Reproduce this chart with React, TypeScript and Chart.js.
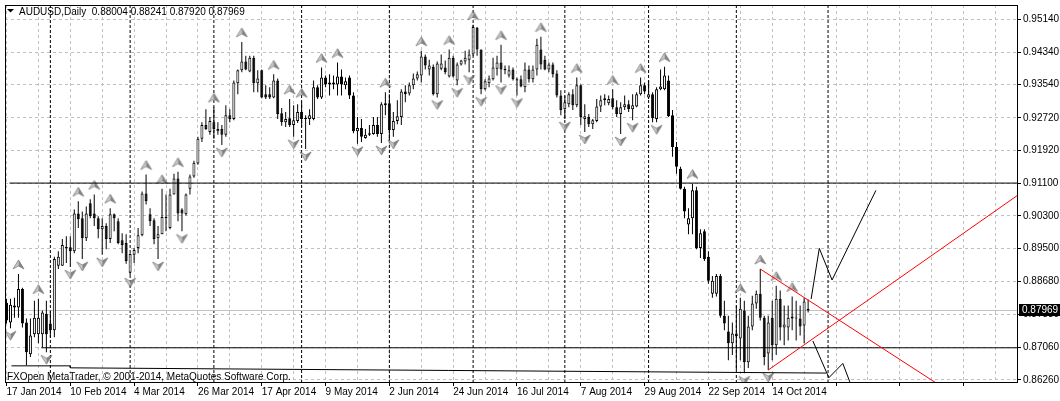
import { useEffect, useRef } from 'react';
import { Chart, registerables } from 'chart.js';

Chart.register(...registerables);

// ---------- data ----------
const symbolName = 'AUDUSD';
const periodName = 'Daily';
const footerText = 'FXOpen MetaTrader, © 2001-2014, MetaQuotes Software Corp.';

// x tick labels, one every 16 daily bars starting at bar 0 (17 Jan 2014)
const dateLabels = ['17 Jan 2014', '10 Feb 2014', '4 Mar 2014', '26 Mar 2014', '17 Apr 2014', '9 May 2014', '2 Jun 2014', '24 Jun 2014', '16 Jul 2014', '7 Aug 2014', '29 Aug 2014', '22 Sep 2014', '14 Oct 2014'];
const priceTicks = [0.8626, 0.8706, 0.8788, 0.8868, 0.895, 0.903, 0.911, 0.9192, 0.9272, 0.9354, 0.9434, 0.9514];

const opens = [
  0.8816, 0.8767, 0.8804, 0.8804, 0.8850, 0.8767, 0.8689, 0.8738, 0.8738, 0.8738,
  0.8789, 0.8765, 0.8748, 0.8907, 0.8907, 0.8951, 0.8953, 0.8943, 0.9036, 0.9024,
  0.8975, 0.9061, 0.9036, 0.9024, 0.8997, 0.9005, 0.8973, 0.9034, 0.9017, 0.8970,
  0.8963, 0.8890, 0.8934, 0.8951, 0.8982, 0.9085, 0.9034, 0.9019, 0.8975, 0.8985,
  0.9027, 0.9000, 0.9083, 0.9122, 0.9046, 0.9034, 0.9097, 0.9127, 0.9159, 0.9220,
  0.9254, 0.9237, 0.9261, 0.9239, 0.9244, 0.9230, 0.9278, 0.9269, 0.9357, 0.9389,
  0.9411, 0.9386, 0.9420, 0.9357, 0.9389, 0.9330, 0.9330, 0.9322, 0.9364, 0.9283,
  0.9261, 0.9271, 0.9254, 0.9264, 0.9286, 0.9271, 0.9269, 0.9269, 0.9347, 0.9322,
  0.9371, 0.9354, 0.9359, 0.9354, 0.9374, 0.9352, 0.9371, 0.9327, 0.9239, 0.9247,
  0.9222, 0.9230, 0.9232, 0.9254, 0.9232, 0.9303, 0.9308, 0.9242, 0.9264, 0.9274,
  0.9337, 0.9332, 0.9352, 0.9369, 0.9376, 0.9423, 0.9391, 0.9398, 0.9330, 0.9393,
  0.9396, 0.9374, 0.9420, 0.9364, 0.9403, 0.9411, 0.9415, 0.9428, 0.9494, 0.9440,
  0.9342, 0.9357, 0.9367, 0.9393, 0.9408, 0.9393, 0.9376, 0.9391, 0.9367, 0.9367,
  0.9347, 0.9391, 0.9367, 0.9391, 0.9440, 0.9415, 0.9391, 0.9403, 0.9381, 0.9327,
  0.9293, 0.9305, 0.9330, 0.9303, 0.9352, 0.9269, 0.9274, 0.9256, 0.9264, 0.9300,
  0.9315, 0.9308, 0.9320, 0.9298, 0.9281, 0.9298, 0.9305, 0.9293, 0.9300, 0.9330,
  0.9352, 0.9322, 0.9330, 0.9269, 0.9342, 0.9342, 0.9364, 0.9278, 0.9200, 0.9146,
  0.9097, 0.9009, 0.9024, 0.9093, 0.8951, 0.8992, 0.8929, 0.8838, 0.8838, 0.8882,
  0.8784, 0.8745, 0.8716, 0.8740, 0.8728, 0.8797, 0.8669, 0.8757, 0.8814, 0.8838,
  0.8779, 0.8691, 0.8779, 0.8711, 0.8826, 0.8755, 0.8755, 0.8782, 0.8777, 0.8777,
  0.8760, 0.88004,
];
const highs = [
  0.8826, 0.8826, 0.8828, 0.8887, 0.8853, 0.8777, 0.8777, 0.8821, 0.8826, 0.8797,
  0.8821, 0.8797, 0.8929, 0.8943, 0.8973, 0.8980, 0.8980, 0.9046, 0.9066, 0.9041,
  0.9053, 0.9071, 0.9083, 0.9029, 0.9024, 0.9012, 0.9049, 0.9036, 0.9024, 0.8987,
  0.8985, 0.8938, 0.8951, 0.9000, 0.9090, 0.9132, 0.9049, 0.9024, 0.9005, 0.9097,
  0.9083, 0.9097, 0.9134, 0.9139, 0.9049, 0.9085, 0.9132, 0.9166, 0.9225, 0.9261,
  0.9293, 0.9274, 0.9298, 0.9261, 0.9254, 0.9303, 0.9293, 0.9364, 0.9391, 0.9459,
  0.9425, 0.9425, 0.9425, 0.9389, 0.9391, 0.9352, 0.9347, 0.9379, 0.9369, 0.9296,
  0.9286, 0.9318, 0.9303, 0.9305, 0.9310, 0.9278, 0.9293, 0.9364, 0.9352, 0.9396,
  0.9376, 0.9379, 0.9376, 0.9408, 0.9391, 0.9371, 0.9376, 0.9335, 0.9274, 0.9269,
  0.9244, 0.9254, 0.9274, 0.9274, 0.9310, 0.9335, 0.9330, 0.9286, 0.9315, 0.9342,
  0.9352, 0.9359, 0.9381, 0.9386, 0.9437, 0.9428, 0.9415, 0.9403, 0.9411, 0.9428,
  0.9413, 0.9440, 0.9425, 0.9408, 0.9415, 0.9437, 0.9440, 0.9501, 0.9496, 0.9440,
  0.9367, 0.9376, 0.9420, 0.9425, 0.9452, 0.9401, 0.9401, 0.9396, 0.9371, 0.9376,
  0.9408, 0.9401, 0.9401, 0.9467, 0.9472, 0.9425, 0.9408, 0.9408, 0.9389, 0.9340,
  0.9327, 0.9335, 0.9342, 0.9371, 0.9354, 0.9305, 0.9281, 0.9269, 0.9318, 0.9327,
  0.9330, 0.9327, 0.9342, 0.9315, 0.9310, 0.9327, 0.9315, 0.9330, 0.9335, 0.9371,
  0.9359, 0.9364, 0.9335, 0.9347, 0.9391, 0.9398, 0.9376, 0.9291, 0.9212, 0.9151,
  0.9102, 0.9049, 0.9110, 0.9102, 0.8997, 0.8997, 0.8943, 0.8882, 0.8887, 0.8887,
  0.8821, 0.8784, 0.8767, 0.8809, 0.8828, 0.8821, 0.8784, 0.8833, 0.8846, 0.8899,
  0.8784, 0.8784, 0.8821, 0.8858, 0.8846, 0.8809, 0.8809, 0.8831, 0.8821, 0.8809,
  0.8828, 0.88241,
];
const lows = [
  0.8765, 0.8753, 0.8779, 0.8779, 0.8755, 0.8662, 0.8682, 0.8731, 0.8716, 0.8706,
  0.8694, 0.8731, 0.8731, 0.8899, 0.8907, 0.8914, 0.8904, 0.8938, 0.9000, 0.8924,
  0.8968, 0.9024, 0.9005, 0.8975, 0.8934, 0.8948, 0.8963, 0.8992, 0.8960, 0.8938,
  0.8912, 0.8884, 0.8914, 0.8938, 0.8980, 0.9058, 0.9005, 0.8960, 0.8924, 0.8985,
  0.8992, 0.8997, 0.9083, 0.9017, 0.8992, 0.9031, 0.9083, 0.9124, 0.9156, 0.9212,
  0.9242, 0.9230, 0.9220, 0.9230, 0.9205, 0.9225, 0.9261, 0.9266, 0.9330, 0.9384,
  0.9389, 0.9384, 0.9335, 0.9335, 0.9320, 0.9318, 0.9318, 0.9320, 0.9269, 0.9252,
  0.9249, 0.9249, 0.9225, 0.9259, 0.9249, 0.9195, 0.9254, 0.9266, 0.9318, 0.9318,
  0.9347, 0.9327, 0.9342, 0.9327, 0.9327, 0.9342, 0.9318, 0.9234, 0.9208, 0.9212,
  0.9220, 0.9227, 0.9230, 0.9225, 0.9210, 0.9278, 0.9217, 0.9225, 0.9256, 0.9254,
  0.9310, 0.9327, 0.9342, 0.9364, 0.9359, 0.9391, 0.9376, 0.9327, 0.9322, 0.9389,
  0.9379, 0.9371, 0.9371, 0.9352, 0.9401, 0.9403, 0.9384, 0.9425, 0.9425, 0.9330,
  0.9340, 0.9347, 0.9364, 0.9376, 0.9359, 0.9379, 0.9371, 0.9364, 0.9327, 0.9347,
  0.9335, 0.9359, 0.9359, 0.9376, 0.9391, 0.9389, 0.9384, 0.9371, 0.9322, 0.9278,
  0.9269, 0.9298, 0.9291, 0.9298, 0.9254, 0.9237, 0.9249, 0.9244, 0.9261, 0.9286,
  0.9303, 0.9303, 0.9293, 0.9274, 0.9232, 0.9291, 0.9286, 0.9266, 0.9298, 0.9327,
  0.9330, 0.9318, 0.9261, 0.9261, 0.9340, 0.9340, 0.9274, 0.9176, 0.9134, 0.9095,
  0.9024, 0.8985, 0.8985, 0.8948, 0.8926, 0.8919, 0.8863, 0.8828, 0.8831, 0.8779,
  0.8748, 0.8674, 0.8687, 0.8650, 0.8674, 0.8642, 0.8655, 0.8748, 0.8801, 0.8772,
  0.8662, 0.8650, 0.8674, 0.8687, 0.8723, 0.8711, 0.8723, 0.8748, 0.8723, 0.8735,
  0.8716, 0.87920,
];
const closes = [
  0.8772, 0.8811, 0.8809, 0.8850, 0.8765, 0.8694, 0.8735, 0.8779, 0.8779, 0.8792,
  0.8738, 0.8748, 0.8924, 0.8929, 0.8958, 0.8953, 0.8943, 0.9036, 0.9022, 0.8975,
  0.9036, 0.9029, 0.9024, 0.8997, 0.9005, 0.8973, 0.9034, 0.9024, 0.8963, 0.8958,
  0.8919, 0.8936, 0.8946, 0.8982, 0.9085, 0.9066, 0.9017, 0.8973, 0.8985, 0.9027,
  0.9024, 0.9083, 0.9122, 0.9036, 0.9036, 0.9083, 0.9127, 0.9161, 0.9220, 0.9254,
  0.9244, 0.9264, 0.9244, 0.9244, 0.9230, 0.9278, 0.9269, 0.9359, 0.9389, 0.9411,
  0.9391, 0.9420, 0.9357, 0.9369, 0.9322, 0.9322, 0.9322, 0.9364, 0.9281, 0.9261,
  0.9269, 0.9254, 0.9266, 0.9286, 0.9269, 0.9269, 0.9278, 0.9347, 0.9322, 0.9371,
  0.9354, 0.9359, 0.9354, 0.9374, 0.9354, 0.9362, 0.9327, 0.9239, 0.9247, 0.9225,
  0.9230, 0.9234, 0.9254, 0.9232, 0.9305, 0.9308, 0.9242, 0.9264, 0.9276, 0.9337,
  0.9330, 0.9352, 0.9369, 0.9379, 0.9423, 0.9401, 0.9401, 0.9330, 0.9406, 0.9406,
  0.9384, 0.9420, 0.9374, 0.9403, 0.9413, 0.9420, 0.9428, 0.9496, 0.9440, 0.9342,
  0.9362, 0.9369, 0.9396, 0.9408, 0.9391, 0.9389, 0.9389, 0.9367, 0.9364, 0.9349,
  0.9391, 0.9367, 0.9391, 0.9452, 0.9403, 0.9391, 0.9403, 0.9379, 0.9327, 0.9291,
  0.9310, 0.9330, 0.9303, 0.9352, 0.9274, 0.9276, 0.9256, 0.9266, 0.9300, 0.9315,
  0.9320, 0.9318, 0.9298, 0.9281, 0.9298, 0.9305, 0.9293, 0.9303, 0.9330, 0.9352,
  0.9337, 0.9330, 0.9271, 0.9342, 0.9349, 0.9376, 0.9276, 0.9200, 0.9151, 0.9097,
  0.9041, 0.9024, 0.9093, 0.8951, 0.8987, 0.8924, 0.8870, 0.8870, 0.8882, 0.8784,
  0.8765, 0.8716, 0.8740, 0.8733, 0.8801, 0.8669, 0.8757, 0.8814, 0.8838, 0.8779,
  0.8682, 0.8767, 0.8711, 0.8826, 0.8755, 0.8762, 0.8779, 0.8777, 0.8779, 0.8757,
  0.8819, 0.87969,
];

// bars carrying a Bill Williams fractal arrow
const upFractalBars = [3, 8, 18, 22, 26, 35, 39, 43, 52, 59, 67, 71, 74, 79, 83, 95, 104, 111, 117, 124, 134, 143, 152, 159, 165, 172, 184, 189, 193, 197];
const downFractalBars = [1, 10, 16, 19, 24, 31, 38, 44, 54, 72, 75, 88, 94, 97, 108, 113, 116, 119, 124, 128, 140, 145, 154, 157, 163, 185, 191];

// monthly period separators (bar index of the first trading day of each month)
const separatorBars = [11, 31, 52, 74, 96, 117, 140, 161, 183, 206];

// drawn objects: [bar index, price]
const resistanceLine = [[0.75, 0.91109], [253.4, 0.91109]];
const supportLine = [[8.75, 0.87048], [253.4, 0.87048]];
const baseLine = [[1.25, 0.86603], [16, 0.86603], [16, 0.86554], [205.5, 0.86425]];
const upperZigzag = [[201.75, 0.8825], [203.8, 0.895], [207, 0.8872], [218, 0.9093]];
const lowerZigzag = [[202.2, 0.87215], [206.2, 0.8631], [209.7, 0.86662], [212, 0.86065]];
const redFalling = [[189, 0.8899], [240, 0.8574]];
const redRising = [[191, 0.865], [254, 0.9084]];

// ---------- view window ----------
const X_MIN = -0.375;
const X_MAX = 253.375;
const Y_MIN = 0.8618;
const Y_MAX = 0.955;

function makeArrow(up: boolean): HTMLCanvasElement {
  const off = up ? 9.5 : 7.5;
  const w = 13;
  const h = 2 * Math.ceil(off + 6);
  const c = document.createElement('canvas');
  c.width = w;
  c.height = h;
  const g = c.getContext('2d')!;
  const cx = 6.5;
  const cy = up ? h / 2 - off : h / 2 + off;
  const s = up ? 1 : -1;
  const apex = [cx, cy - 4.5 * s];
  const lb = [cx - 5.5, cy + 4.5 * s];
  const rb = [cx + 5.5, cy + 4.5 * s];
  const notch = [cx, cy + 1.5 * s];
  g.beginPath();
  g.moveTo(apex[0], apex[1]);
  g.lineTo(lb[0], lb[1]);
  g.lineTo(notch[0], notch[1]);
  g.closePath();
  g.fillStyle = '#c9c9c9';
  g.fill();
  g.beginPath();
  g.moveTo(apex[0], apex[1]);
  g.lineTo(notch[0], notch[1]);
  g.lineTo(rb[0], rb[1]);
  g.closePath();
  g.fillStyle = '#858585';
  g.fill();
  g.beginPath();
  g.moveTo(apex[0], apex[1]);
  g.lineTo(rb[0], rb[1]);
  g.lineTo(notch[0], notch[1]);
  g.lineTo(lb[0], lb[1]);
  g.closePath();
  g.strokeStyle = 'rgba(90,90,90,0.7)';
  g.lineWidth = 0.8;
  g.stroke();
  return c;
}

const toXY = (pts: number[][]) => pts.map(([x, y]) => ({ x, y }));

export default function App() {
  const ref = useRef<HTMLCanvasElement>(null);

  useEffect(() => {
    const canvas = ref.current;
    if (!canvas) return;
    const idx = opens.map((_, i) => i);
    const last = opens.length - 1;
    const upImg = makeArrow(true);
    const downImg = makeArrow(false);

    const sepData: any[] = [];
    separatorBars.forEach((s) => {
      sepData.push({ x: s, y: Y_MIN }, { x: s, y: Y_MAX }, { x: s, y: null });
    });

    const lineDs = (data: any[], color: string, order: number, extra: any = {}) => ({
      type: 'line',
      data,
      borderColor: color,
      borderWidth: 1,
      pointRadius: 0,
      tension: 0,
      fill: false,
      spanGaps: false,
      order,
      ...extra,
    });

    const font = { family: 'Liberation Sans', size: 10 };

    const overlay = {
      id: 'mtOverlay',
      afterDraw(chart: any) {
        const { ctx, chartArea: a } = chart;
        ctx.save();
        ctx.setLineDash([]);
        ctx.strokeStyle = '#000';
        ctx.lineWidth = 1;
        ctx.strokeRect(a.left + 0.5, a.top + 0.5, a.right - a.left, a.bottom - a.top - 1);

        // header
        ctx.fillStyle = '#000';
        ctx.beginPath();
        ctx.moveTo(7, 9);
        ctx.lineTo(14, 9);
        ctx.lineTo(10.5, 12.5);
        ctx.closePath();
        ctx.fill();
        ctx.font = '10px "Liberation Sans"';
        ctx.textBaseline = 'alphabetic';
        ctx.textAlign = 'left';
        const f = (v: number) => v.toFixed(5);
        ctx.fillText(
          `${symbolName},${periodName}  ${f(opens[last])} ${f(highs[last])} ${f(lows[last])} ${f(closes[last])}`,
          19,
          15
        );
        // footer
        ctx.fillText(footerText, 7, 380);

        // current price box
        const y = chart.scales.y.getPixelForValue(closes[last]);
        ctx.fillStyle = '#000';
        ctx.fillRect(1019, Math.round(y) - 6, 41, 12);
        ctx.fillStyle = '#fff';
        ctx.textBaseline = 'middle';
        ctx.fillText(f(closes[last]), 1022, Math.round(y));
        ctx.restore();
      },
    };

    const chart = new Chart(canvas, {
      type: 'bar',
      data: {
        datasets: [
          lineDs(sepData, '#000', 10, { borderDash: [3, 2] }),
          lineDs(toXY([[X_MIN, closes[last]], [X_MAX, closes[last]]]), '#c0c0c0', 9),
          {
            type: 'bar',
            data: idx.map((i) => ({ x: i, y: [lows[i], highs[i]] })),
            backgroundColor: '#000',
            borderWidth: 0,
            barThickness: 1,
            grouped: false,
            inflateAmount: 0,
            order: 8,
          },
          {
            type: 'bar',
            data: idx.map((i) => ({ x: i, y: [opens[i], closes[i]] })),
            backgroundColor: idx.map((i) => (closes[i] >= opens[i] ? '#ffffff' : '#000000')),
            borderColor: '#000',
            borderWidth: 1,
            borderSkipped: false,
            barThickness: 3,
            minBarLength: 1,
            grouped: false,
            inflateAmount: 0,
            order: 7,
          },
          {
            type: 'line',
            data: upFractalBars.map((i) => ({ x: i, y: highs[i] })),
            showLine: false,
            pointStyle: upImg,
            pointRadius: 3,
            order: 6,
          },
          {
            type: 'line',
            data: downFractalBars.map((i) => ({ x: i, y: lows[i] })),
            showLine: false,
            pointStyle: downImg,
            pointRadius: 3,
            order: 6,
          },
          lineDs(toXY(resistanceLine), '#000', 5),
          lineDs(toXY(supportLine), '#000', 5),
          lineDs(toXY(baseLine), '#000', 5),
          lineDs(toXY(upperZigzag), '#000', 5),
          lineDs(toXY(lowerZigzag), '#000', 5),
          lineDs(toXY(redFalling), '#ff0000', 4),
          lineDs(toXY(redRising), '#ff0000', 4),
        ] as any,
      },
      options: {
        responsive: false,
        devicePixelRatio: 1,
        animation: false,
        events: [],
        layout: { padding: { left: 2, top: 2, right: 0, bottom: 0 } },
        plugins: { legend: { display: false }, tooltip: { enabled: false } },
        scales: {
          x: {
            type: 'linear',
            min: X_MIN,
            max: X_MAX,
            bounds: 'data',
            offset: false,
            grid: {
              offset: false,
              color: '#c0c0c0',
              lineWidth: 1,
              tickLength: 3,
              tickColor: (c: any) => (c.tick && c.tick.value % 16 === 0 ? '#000' : 'rgba(0,0,0,0)'),
            },
            border: { display: false, dash: [3, 3] },
            ticks: {
              autoSkip: false,
              maxRotation: 0,
              minRotation: 0,
              align: 'start',
              padding: 0,
              color: '#000',
              font,
              callback: (v: any) => {
                const n = Number(v);
                return n % 16 === 0 && n / 16 < dateLabels.length ? dateLabels[n / 16] : '';
              },
            },
            afterBuildTicks: (s: any) => {
              const t = [];
              for (let v = 0; v <= 248; v += 8) t.push({ value: v });
              s.ticks = t;
            },
            afterFit: (s: any) => {
              s.height = 18;
              s.paddingLeft = 0;
              s.paddingRight = 0;
              s.paddingTop = 0;
              s.paddingBottom = 0;
            },
          },
          y: {
            type: 'linear',
            position: 'right',
            min: Y_MIN,
            max: Y_MAX,
            bounds: 'data',
            beginAtZero: false,
            grid: { color: '#c0c0c0', lineWidth: 1, tickLength: 4, tickColor: '#000' },
            border: { display: false, dash: [3, 3] },
            ticks: {
              padding: 2,
              color: '#000',
              font,
              autoSkip: false,
              callback: (v: any) => Number(v).toFixed(5),
            },
            afterBuildTicks: (s: any) => {
              s.ticks = priceTicks.map((v) => ({ value: v }));
            },
            afterFit: (s: any) => {
              s.width = 43;
              s.paddingLeft = 0;
              s.paddingRight = 0;
              s.paddingTop = 0;
              s.paddingBottom = 0;
            },
          },
        },
      } as any,
      plugins: [overlay],
    });
    return () => chart.destroy();
  }, []);

  return (
    <div style={{ position: 'absolute', left: 0, top: 0, width: 1060, height: 401, background: '#fff' }}>
      <canvas ref={ref} width={1060} height={401} style={{ display: 'block' }} />
    </div>
  );
}
